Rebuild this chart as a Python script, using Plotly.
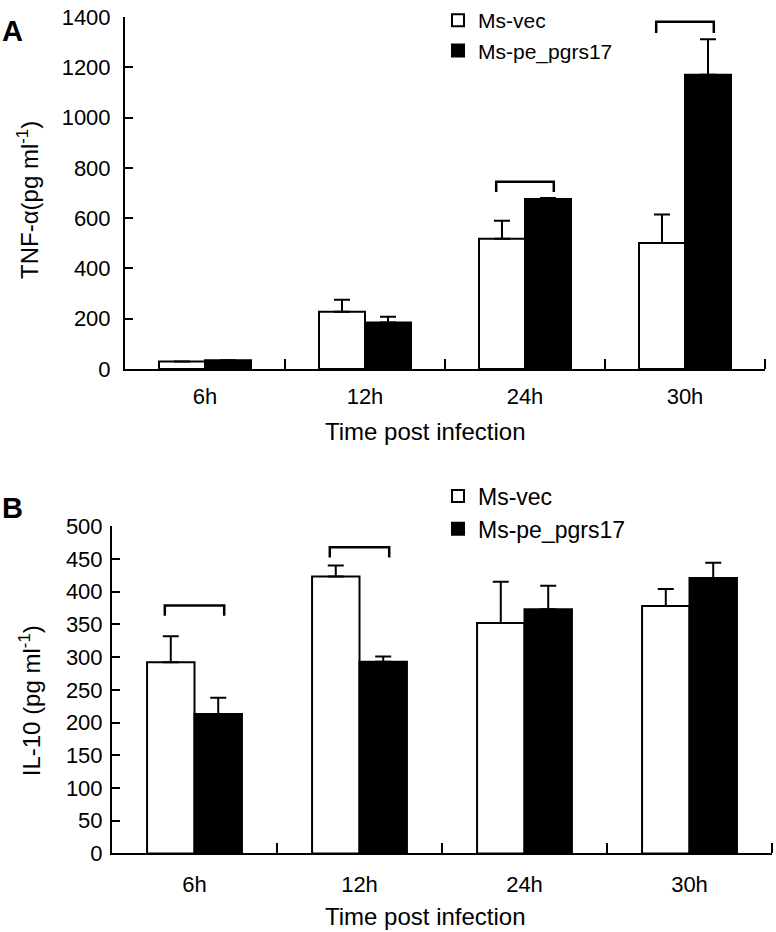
import plotly.graph_objects as go

# ---------------- data ----------------
categories = ["6h", "12h", "24h", "30h"]
series_names = ["Ms-vec", "Ms-pe_pgrs17"]

tnf_vec = [30, 228, 518, 501]
tnf_vec_err = [0, 48, 72, 113]
tnf_pe = [35, 185, 676, 1170]
tnf_pe_err = [0, 23, 4, 141]

il10_vec = [292, 423, 352, 378]
il10_vec_err = [40, 17, 63, 26]
il10_pe = [213, 293, 373, 421]
il10_pe_err = [25, 8, 36, 23]

# significance brackets: category index, top level, leg bottom level
tnf_bracket_cat = [2, 3]
tnf_bracket_top = [745, 1381]
tnf_bracket_low = [704, 1336]
il10_bracket_cat = [0, 1]
il10_bracket_top = [379, 468]
il10_bracket_low = [363, 452]

tnf_ticks = list(range(0, 1401, 200))
il10_ticks = list(range(0, 501, 50))

# ---------------- styling ----------------
W, H = 776, 932
FONT = "Liberation Sans, Arial, Helvetica, sans-serif"
xpos = list(range(len(categories)))
bounds = [i + 0.5 for i in xpos]

fig = go.Figure()


def add_bars(vals, errs, name, fill, xa, ya, legend):
    fig.add_trace(go.Bar(
        x=xpos, y=vals, name=name, xaxis=xa, yaxis=ya, legend=legend,
        marker=dict(color=fill, line=dict(color="black", width=2)),
        error_y=dict(type="data", array=errs, arrayminus=[0] * len(errs),
                     symmetric=False, color="black", thickness=2, width=8),
    ))


add_bars(tnf_vec, tnf_vec_err, series_names[0], "white", "x", "y", "legend")
add_bars(tnf_pe, tnf_pe_err, series_names[1], "black", "x", "y", "legend")
add_bars(il10_vec, il10_vec_err, series_names[0], "white", "x2", "y2", "legend2")
add_bars(il10_pe, il10_pe_err, series_names[1], "black", "x2", "y2", "legend2")

shapes = []
for cats, tops, lows, xr, yr in [
    (tnf_bracket_cat, tnf_bracket_top, tnf_bracket_low, "x", "y"),
    (il10_bracket_cat, il10_bracket_top, il10_bracket_low, "x2", "y2"),
]:
    for c, t, lo in zip(cats, tops, lows):
        x0, x1 = c - 0.18, c + 0.18
        shapes.append(dict(
            type="path", xref=xr, yref=yr,
            path=f"M {x0},{lo} L {x0},{t} L {x1},{t} L {x1},{lo}",
            line=dict(color="black", width=2.5),
        ))


def xaxis(domain, anchor, pad):
    return dict(
        domain=domain, anchor=anchor, range=[-0.5, 3.5],
        tickmode="array", tickvals=xpos, ticktext=categories,
        ticks="outside", ticklen=pad, tickcolor="rgba(0,0,0,0)",
        tickfont=dict(size=22, color="black"),
        showline=True, linecolor="black", linewidth=2,
        showgrid=False, zeroline=False, automargin=False, fixedrange=True,
        minor=dict(tickmode="array", tickvals=bounds, ticks="inside",
                   ticklen=10, tickwidth=2, tickcolor="black", showgrid=False),
    )


def yaxis(domain, anchor, rng, ticks, standoff):
    return dict(
        domain=domain, anchor=anchor, range=rng,
        tickmode="array", tickvals=ticks,
        ticks="inside", ticklen=8, tickwidth=2, tickcolor="black",
        ticklabelstandoff=standoff,
        tickfont=dict(size=22, color="black"),
        showline=True, linecolor="black", linewidth=2,
        showgrid=False, zeroline=False, automargin=False, fixedrange=True,
    )


annotations = [
    dict(text="<b>A</b>", x=0, y=1 - 26 / H, xref="paper", yref="paper",
         xanchor="left", yanchor="middle", showarrow=False,
         font=dict(size=29, color="black")),
    dict(text="<b>B</b>", x=0, y=1 - 506 / H, xref="paper", yref="paper",
         xanchor="left", yanchor="middle", showarrow=False,
         font=dict(size=29, color="black")),
    dict(text="TNF-α(pg ml<sup>-1</sup>)", x=28 / W, y=1 - 196 / H,
         xref="paper", yref="paper", textangle=-90, showarrow=False,
         xanchor="center", yanchor="middle", font=dict(size=24, color="black")),
    dict(text="IL-10 (pg ml<sup>-1</sup>)", x=30 / W, y=1 - 700 / H,
         xref="paper", yref="paper", textangle=-90, showarrow=False,
         xanchor="center", yanchor="middle", font=dict(size=24, color="black")),
    dict(text="Time post infection", x=425 / W, y=1 - 429 / H,
         xref="paper", yref="paper", showarrow=False,
         xanchor="center", yanchor="middle", font=dict(size=24, color="black")),
    dict(text="Time post infection", x=425 / W, y=1 - 916 / H,
         xref="paper", yref="paper", showarrow=False,
         xanchor="center", yanchor="middle", font=dict(size=24, color="black")),
]

legend_style = dict(
    xanchor="left", yanchor="top", bgcolor="rgba(0,0,0,0)", borderwidth=0,
    traceorder="normal",
)

fig.update_layout(
    width=W, height=H,
    margin=dict(l=0, r=0, t=0, b=0),
    paper_bgcolor="white", plot_bgcolor="white",
    font=dict(family=FONT, color="black"),
    barmode="group", bargap=0.425, bargroupgap=0,
    xaxis=xaxis([125 / W, 765 / W], "y", 7),
    yaxis=yaxis([1 - 366 / H, 1 - 12 / H], "x", [0, 1400], tnf_ticks, 8),
    xaxis2=xaxis([112 / W, 772 / W], "y2", 10),
    yaxis2=yaxis([1 - 853 / H, 1 - 524 / H], "x2", [0, 500], il10_ticks, 3),
    legend=dict(x=438 / W, y=1 + 5 / H, font=dict(size=21, color="black"),
                **legend_style),
    legend2=dict(x=438 / W, y=1 - 472 / H, font=dict(size=23, color="black"),
                 **legend_style),
    shapes=shapes,
    annotations=annotations,
    showlegend=True,
)

fig.write_html(
    "out.html",
    config={"displayModeBar": False},
    post_script="document.body.style.margin='0';"
                "document.body.style.overflow='hidden';",
)
